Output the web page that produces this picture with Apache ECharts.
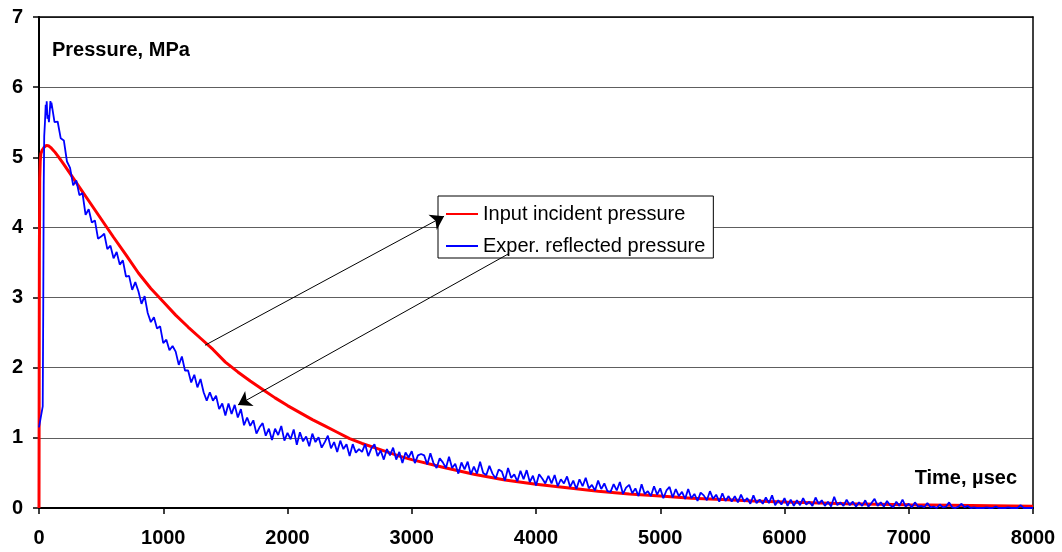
<!DOCTYPE html>
<html>
<head>
<meta charset="utf-8">
<script src="https://cdn.jsdelivr.net/npm/echarts@6/dist/echarts.min.js"></script>
<style>
html, body { margin: 0; padding: 0; background: #fff; }
#chart { width: 1062px; height: 552px; }
</style>
</head>
<body>
<div id="chart"></div>
<script>
// x ticks: 0..8000 step 1000 (µsec), y ticks: 0..7 step 1 (MPa)
var xTicks = [0, 1000, 2000, 3000, 4000, 5000, 6000, 7000, 8000];
var yTicks = [0, 1, 2, 3, 4, 5, 6, 7];

// input incident pressure (red)
var redTime = [0, 3, 6, 10, 15, 25, 40, 60, 80, 100, 130, 160, 200, 300, 400, 500, 600, 700, 800, 900,
  1000, 1100, 1200, 1300, 1400, 1500, 1600, 1700, 1800, 1900, 2000, 2100, 2200, 2300, 2400, 2500,
  2600, 2700, 2800, 2900, 3000, 3250, 3500, 3750, 4000, 4250, 4500, 4750, 5000, 5250, 5500, 5750,
  6000, 6500, 7000, 7500, 8000];
var redValue = [0, 3.6, 4.7, 4.95, 5.05, 5.10, 5.14, 5.17, 5.16, 5.13, 5.07, 5.00, 4.90, 4.64, 4.38, 4.12, 3.86, 3.61, 3.35, 3.13,
  2.94, 2.75, 2.58, 2.42, 2.26, 2.08, 1.94, 1.81, 1.69, 1.57, 1.46, 1.36, 1.26, 1.17, 1.08, 0.99,
  0.92, 0.86, 0.80, 0.74, 0.69, 0.58, 0.48, 0.40, 0.34, 0.29, 0.24, 0.20, 0.17, 0.14, 0.12, 0.10,
  0.085, 0.06, 0.045, 0.035, 0.025];

// exper. reflected pressure (blue): first rise, read point by point
var blueStartTime = [0, 5, 10, 15, 20, 25, 30, 34, 38, 42, 48, 54, 58, 62, 68, 74, 80, 86, 92, 96];
var blueStartValue = [1.15, 1.2, 1.25, 1.3, 1.32, 1.4, 1.45, 2.8, 4.6, 5.3, 5.5, 5.75, 5.6, 5.8, 5.55, 5.6, 5.5, 5.65, 5.8, 5.7];

// then one reading every 25 µsec from 100 to 8000
var blueFrom = 100;
var blueStep = 25;
var blueValue = [
  5.78, 5.50, 5.51, 5.27, 5.24, 4.94, 4.85, 4.60, 4.67, 4.46, 4.49, 4.18, 4.26, 4.07, 4.10, 3.84, 3.87, 3.91, 3.69, 3.74, // 100-575
  3.56, 3.65, 3.47, 3.53, 3.30, 3.31, 3.11, 3.22, 3.09, 2.91, 3.02, 2.78, 2.65, 2.72, 2.56, 2.59, 2.35, 2.40, 2.25, 2.31, // 600-1075
  2.23, 2.04, 2.16, 1.96, 1.96, 1.79, 1.90, 1.72, 1.84, 1.65, 1.53, 1.65, 1.53, 1.60, 1.41, 1.49, 1.32, 1.49, 1.34, 1.47, // 1100-1575
  1.29, 1.41, 1.18, 1.29, 1.17, 1.25, 1.06, 1.15, 1.21, 1.03, 1.13, 0.97, 1.13, 1.04, 1.17, 0.96, 1.07, 0.98, 1.12, 0.90, // 1600-2075
  1.08, 0.95, 1.02, 0.88, 1.06, 0.94, 1.01, 0.86, 0.94, 1.03, 0.85, 0.94, 0.80, 0.96, 0.84, 0.91, 0.74, 0.91, 0.79, 0.84, // 2100-2575
  0.80, 0.91, 0.74, 0.85, 0.91, 0.74, 0.82, 0.69, 0.84, 0.75, 0.86, 0.69, 0.80, 0.64, 0.79, 0.72, 0.81, 0.64, 0.75, 0.77, // 2600-3075
  0.75, 0.62, 0.78, 0.64, 0.57, 0.71, 0.65, 0.57, 0.73, 0.57, 0.63, 0.49, 0.65, 0.55, 0.66, 0.48, 0.59, 0.49, 0.66, 0.50, // 3100-3575
  0.47, 0.60, 0.49, 0.42, 0.55, 0.52, 0.39, 0.57, 0.43, 0.48, 0.38, 0.53, 0.41, 0.54, 0.37, 0.46, 0.32, 0.48, 0.42, 0.35, // 3600-4075
  0.46, 0.35, 0.47, 0.31, 0.41, 0.35, 0.45, 0.30, 0.39, 0.27, 0.41, 0.31, 0.43, 0.28, 0.33, 0.25, 0.39, 0.27, 0.35, 0.24, // 4100-4575
  0.23, 0.34, 0.25, 0.37, 0.20, 0.29, 0.33, 0.21, 0.28, 0.17, 0.34, 0.20, 0.24, 0.17, 0.31, 0.19, 0.28, 0.14, 0.25, 0.30, // 4600-5075
  0.15, 0.27, 0.17, 0.23, 0.13, 0.27, 0.14, 0.20, 0.10, 0.22, 0.18, 0.11, 0.24, 0.13, 0.19, 0.09, 0.21, 0.10, 0.17, 0.09, // 5100-5575
  0.17, 0.08, 0.19, 0.09, 0.14, 0.06, 0.18, 0.07, 0.12, 0.06, 0.15, 0.07, 0.18, 0.04, 0.11, 0.05, 0.14, 0.03, 0.12, 0.03, // 5600-6075
  0.11, 0.04, 0.14, 0.05, 0.09, 0.03, 0.15, 0.06, 0.11, 0.03, 0.09, 0.02, 0.16, 0.04, 0.08, 0.03, 0.12, 0.04, 0.09, 0.02, // 6100-6575
  0.08, 0.03, 0.11, 0.02, 0.07, 0.13, 0.03, 0.08, 0.02, 0.10, 0.04, 0.01, 0.09, 0.03, 0.12, 0.02, 0.06, 0.01, 0.08, 0.02, // 6600-7075
  0.03, 0.01, 0.07, 0.01, 0.02, 0.00, 0.05, 0.01, 0.02, 0.08, 0.01, 0.00, 0.02, 0.06, 0.01, 0.03, 0.00, 0.01, 0.00, 0.00, // 7100-7575
  0.00, 0.01, 0.00, 0.00, 0.02, 0.00, 0.00, 0.00, 0.01, 0.00, 0.00, 0.00, 0.04, 0.00, 0.00, 0.00, 0.00                    // 7600-8000
];

// arrows from the curves to the legend entries, in data units
var arrowRed = [[1336, 2.32], [3260, 4.16]];
var arrowBlue = [[3775, 3.62], [1602, 1.47]];

var FONT = 'Arial, "Liberation Sans", sans-serif';

var chart = echarts.init(document.getElementById('chart'));

var redData = redTime.map(function (t, i) { return [t, redValue[i]]; });
var blueData = blueStartTime.map(function (t, i) { return [t, blueStartValue[i]]; });
blueValue.forEach(function (v, i) { blueData.push([blueFrom + i * blueStep, v]); });

var option = {
  backgroundColor: '#fff',
  animation: false,
  grid: { left: 39, right: 29, top: 17, bottom: 44 },
  legend: {
    data: ['Input incident pressure', 'Exper. reflected pressure'],
    selectedMode: false,
    orient: 'vertical',
    left: 438,
    top: 196,
    padding: [8, 8, 2, 7],
    itemGap: 12,
    itemWidth: 32,
    itemHeight: 14,
    itemStyle: { opacity: 0 }, // line only, no marker
    backgroundColor: '#fff',
    borderColor: '#000',
    borderWidth: 1,
    textStyle: { fontFamily: FONT, fontSize: 20, lineHeight: 20, color: '#000' }
  },
  xAxis: [{
    type: 'value',
    min: xTicks[0],
    max: xTicks[xTicks.length - 1],
    interval: 1000,
    axisLine: { show: true, onZero: false, lineStyle: { color: '#000', width: 2 } },
    axisTick: { show: true, length: 6, lineStyle: { color: '#000', width: 1.5 } },
    axisLabel: {
      fontFamily: FONT, fontSize: 20, fontWeight: 'bold', color: '#000', margin: 20,
      formatter: function (v) { return String(v); }
    },
    splitLine: { show: false }
  }, {
    type: 'value',
    position: 'top',
    min: 0,
    max: 8000,
    axisLine: { show: true, onZero: false, lineStyle: { color: '#000', width: 1.5 } },
    axisTick: { show: false },
    axisLabel: { show: false },
    splitLine: { show: false }
  }],
  yAxis: [{
    type: 'value',
    min: yTicks[0],
    max: yTicks[yTicks.length - 1],
    interval: 1,
    axisLine: { show: true, onZero: false, lineStyle: { color: '#000', width: 2 } },
    axisTick: { show: true, length: 6, lineStyle: { color: '#000', width: 1.5 } },
    axisLabel: { fontFamily: FONT, fontSize: 20, fontWeight: 'bold', color: '#000', margin: 16 },
    splitLine: { show: true, lineStyle: { color: '#5e5e5e', width: 1 } }
  }, {
    type: 'value',
    position: 'right',
    min: 0,
    max: 7,
    axisLine: { show: true, onZero: false, lineStyle: { color: '#000', width: 1.5 } },
    axisTick: { show: false },
    axisLabel: { show: false },
    splitLine: { show: false }
  }],
  graphic: [
    { type: 'text', x: 52, y: 50, style: { text: 'Pressure, MPa', font: 'bold 20px ' + FONT, fill: '#000', align: 'left', verticalAlign: 'middle' } },
    { type: 'text', x: 1017, y: 478, style: { text: 'Time, µsec', font: 'bold 20px ' + FONT, fill: '#000', align: 'right', verticalAlign: 'middle' } }
  ],
  series: [{
    name: 'Input incident pressure',
    type: 'line',
    data: redData,
    showSymbol: false,
    symbol: 'none',
    color: '#ff0000',
    lineStyle: { color: '#ff0000', width: 3 },
    z: 2
  }, {
    name: 'Exper. reflected pressure',
    type: 'line',
    data: blueData,
    showSymbol: false,
    symbol: 'none',
    color: '#0000ff',
    lineStyle: { color: '#0000ff', width: 1.8 },
    z: 3
  }, {
    name: 'arrows',
    type: 'line',
    data: [],
    z: 10,
    markLine: {
      silent: true,
      animation: false,
      symbol: ['none', 'arrow'],
      symbolSize: 13,
      label: { show: false },
      lineStyle: { color: '#000', width: 1, type: 'solid' },
      emphasis: { disabled: true },
      data: [
        [{ coord: arrowRed[0] }, { coord: arrowRed[1] }],
        [{ coord: arrowBlue[0] }, { coord: arrowBlue[1] }]
      ]
    }
  }]
};

chart.setOption(option);
</script>
</body>
</html>
